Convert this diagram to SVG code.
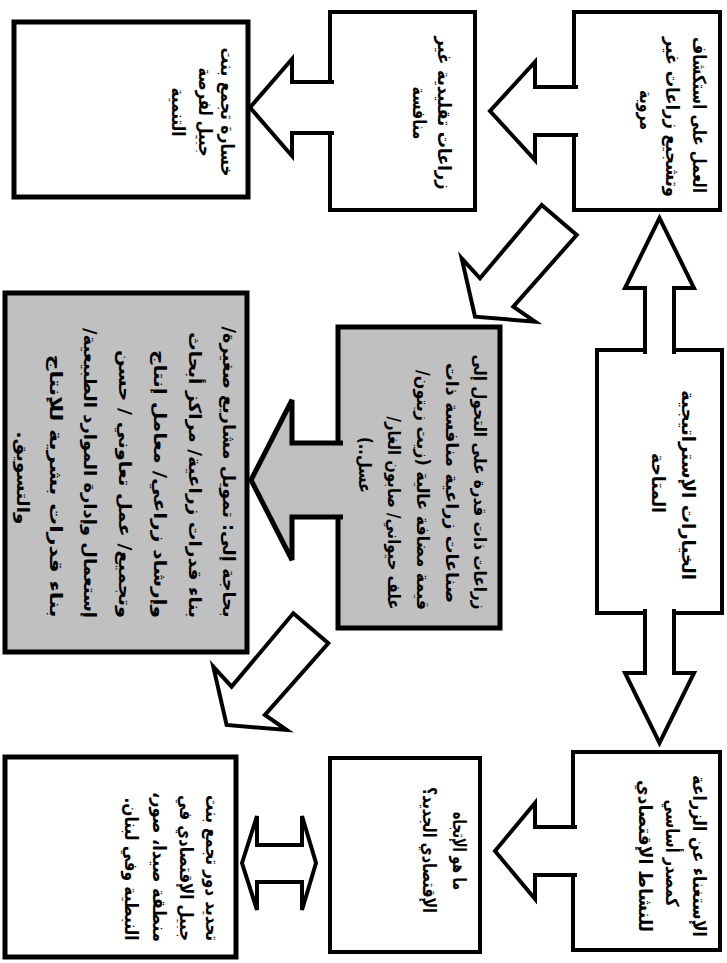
<svg xmlns="http://www.w3.org/2000/svg" width="727" height="963" viewBox="0 0 727 963">
<style>
.box{fill:#fff;stroke:#000;stroke-width:4}
.thick{stroke-width:5}
.gray{fill:#c0c0c0}
.t{font-family:"DejaVu Sans",sans-serif;font-weight:bold;font-size:18px;text-anchor:middle;direction:rtl;fill:#000}
.s{font-size:17px}
.arr{fill:#fff;stroke:#000;stroke-width:4;stroke-linejoin:miter}
.garr{fill:#c0c0c0;stroke:#000;stroke-width:5;stroke-linejoin:miter}
</style>
<rect width="727" height="963" fill="#fff"/>
<g id="n-istighnaa">
<rect class="box" x="573" y="752" width="147" height="198"/>
<text class="t" transform="translate(693,856) rotate(90)" textLength="162" lengthAdjust="spacingAndGlyphs">الإستغناء عن الزراعة</text>
<text class="t" transform="translate(666,853) rotate(90)" textLength="107" lengthAdjust="spacingAndGlyphs">كمصدر أساسي</text>
<text class="t" transform="translate(639,856) rotate(90)" textLength="152" lengthAdjust="spacingAndGlyphs">للنشاط الإقتصادي</text>
</g>
<g id="n-ittijah">
<rect class="box" x="330" y="758" width="150" height="194"/>
<text class="t" transform="translate(453,851) rotate(90)" textLength="78" lengthAdjust="spacingAndGlyphs">ما هو الإتجاه</text>
<text class="t" transform="translate(423,850) rotate(90)" textLength="126" lengthAdjust="spacingAndGlyphs">الإقتصادي الجديد؟</text>
</g>
<g id="n-tahdid">
<rect class="box thick" x="5" y="757" width="231" height="200"/>
<text class="t" transform="translate(206,868) rotate(90)" textLength="146" lengthAdjust="spacingAndGlyphs">تحديد دور تجمع بنت</text>
<text class="t" transform="translate(180,868) rotate(90)" textLength="146" lengthAdjust="spacingAndGlyphs">جبيل الإقتصادي في</text>
<text class="t" transform="translate(153,867) rotate(90)" textLength="150" lengthAdjust="spacingAndGlyphs">منطقة صيدا، صور،</text>
<text class="t" transform="translate(125,869) rotate(90)" textLength="143" lengthAdjust="spacingAndGlyphs">النبطية وفي لبنان.</text>
</g>
<g id="n-khiyarat">
<rect class="box" x="597" y="350" width="125" height="263"/>
<text class="t" transform="translate(682,485) rotate(90)" textLength="190" lengthAdjust="spacingAndGlyphs">الخيارات الإستراتيجية</text>
<text class="t" transform="translate(652,483) rotate(90)" textLength="60" lengthAdjust="spacingAndGlyphs">المتاحة</text>
</g>
<g id="n-amal">
<rect class="box" x="574" y="12" width="146" height="198"/>
<text class="t" transform="translate(693,115) rotate(90)" textLength="156" lengthAdjust="spacingAndGlyphs">العمل على استكشاف</text>
<text class="t" transform="translate(666,117) rotate(90)" textLength="160" lengthAdjust="spacingAndGlyphs">وتشجيع زراعات غير</text>
<text class="t" transform="translate(640,110) rotate(90)" textLength="40" lengthAdjust="spacingAndGlyphs">مروية</text>
</g>
<g id="n-taqlidiya">
<rect class="box" x="330" y="12" width="145" height="198"/>
<text class="t" transform="translate(438,113) rotate(90)" textLength="153" lengthAdjust="spacingAndGlyphs">زراعات تقليدية غير</text>
<text class="t" transform="translate(413,113) rotate(90)" textLength="53" lengthAdjust="spacingAndGlyphs">منافسة</text>
</g>
<g id="n-khasara">
<rect class="box thick" x="14" y="22" width="234" height="175"/>
<text class="t" transform="translate(221,112) rotate(90)" textLength="129" lengthAdjust="spacingAndGlyphs">خسارة تجمع بنت</text>
<text class="t" transform="translate(199,112) rotate(90)" textLength="89" lengthAdjust="spacingAndGlyphs">جبيل لفرصة</text>
<text class="t" transform="translate(172,112) rotate(90)" textLength="49" lengthAdjust="spacingAndGlyphs">التنمية</text>
</g>
<g id="n-qudra">
<rect class="box thick gray" x="338" y="327" width="162" height="301"/>
<text class="t s" transform="translate(474,482) rotate(90)" textLength="255" lengthAdjust="spacingAndGlyphs">زراعات ذات قدرة على التحول إلى</text>
<text class="t s" transform="translate(446,483) rotate(90)" textLength="240" lengthAdjust="spacingAndGlyphs">صناعات زراعية منافسة ذات</text>
<text class="t s" transform="translate(417,490) rotate(90)" textLength="240" lengthAdjust="spacingAndGlyphs">قيمة مضافة عالية (زيت زيتون/</text>
<text class="t s" transform="translate(388,513) rotate(90)" textLength="193" lengthAdjust="spacingAndGlyphs">علف حيواني/ صابون الغار/</text>
<text class="t s" transform="translate(359,465) rotate(90)" textLength="56" lengthAdjust="spacingAndGlyphs">عسل..)</text>
</g>
<g id="n-bihaja">
<rect class="box thick gray" x="5" y="293" width="242" height="359"/>
<text class="t s" transform="translate(223,472) rotate(90)" textLength="291" lengthAdjust="spacingAndGlyphs">بحاجة إلى: تمويل مشاريع صغيرة/</text>
<text class="t s" transform="translate(189,475) rotate(90)" textLength="286" lengthAdjust="spacingAndGlyphs">بناء قدرات زراعية/ مراكز أبحاث</text>
<text class="t s" transform="translate(154,484) rotate(90)" textLength="268" lengthAdjust="spacingAndGlyphs">وإرشاد زراعي/ معامل إنتاج</text>
<text class="t s" transform="translate(119,484) rotate(90)" textLength="268" lengthAdjust="spacingAndGlyphs">وتجميع/ عمل تعاوني / حسن</text>
<text class="t s" transform="translate(84,473) rotate(90)" textLength="290" lengthAdjust="spacingAndGlyphs">إستعمال وإدارة الموارد الطبيعية/</text>
<text class="t s" transform="translate(50,486) rotate(90)" textLength="263" lengthAdjust="spacingAndGlyphs">بناء قدرات بشرية للإنتاج</text>
<text class="t s" transform="translate(17,478) rotate(90)" textLength="93" lengthAdjust="spacingAndGlyphs">والتسويق.</text>
</g>
<g id="connectors">
<path class="arr" d="M578,87 H535 V62 L490,111 L535,160 V135 H578"/>
<path class="arr" d="M334,82 H292 V59 L250,107.5 L292,156 V133 H334"/>
<path class="arr" d="M577,827 H535 V803 L495,851 L535,899 V875 H577"/>
<path class="garr" d="M343,443 H292 V400 L251,480 L292,560 V517 H343"/>
<path class="arr" d="M645,354 V288 H625 L659.5,218 L694,288 H674 V354"/>
<path class="arr" d="M645,609 V673 H625 L659.5,743 L694,673 H674 V609"/>
<polygon class="arr" points="541.7,205 576.7,235 513.3,306.7 535,321.7 475,316.7 461.7,258.3 480,278.3"/>
<polygon class="arr" points="293.3,613.3 328.3,643.3 264.9,715 286.6,730 226.6,725 213.3,666.6 231.6,686.6"/>
<polygon class="arr" points="242,863 257,816 257,845 302,845 302,816 316,863 302,910 302,882 257,882 257,910"/>
</g>
</svg>
